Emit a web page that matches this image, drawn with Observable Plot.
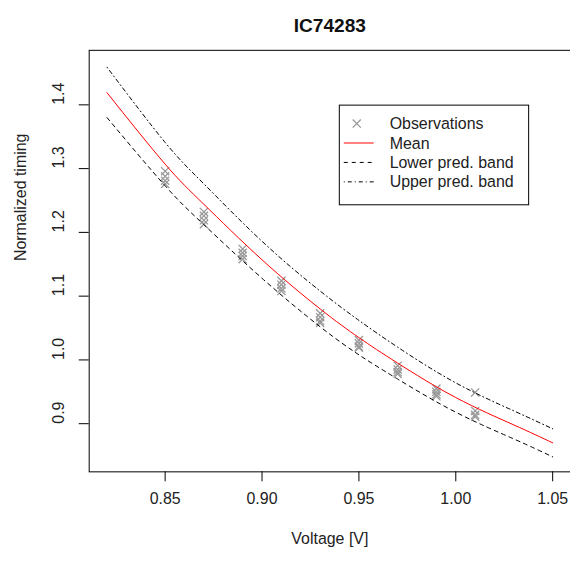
<!DOCTYPE html>
<html>
<head>
<meta charset="utf-8">
<script src="https://cdn.jsdelivr.net/npm/d3@7"></script>
<script src="https://cdn.jsdelivr.net/npm/@observablehq/plot@0.6"></script>
<style>
  html, body { margin: 0; padding: 0; overflow: hidden; background: white; }
  #chart svg { display: block; }
</style>
</head>
<body>
<div id="chart"></div>
<script>
const chartTitle = "IC74283";
const xLabel = "Voltage [V]";
const yLabel = "Normalized timing";
const xTicks = [0.85, 0.90, 0.95, 1.00, 1.05];
const yTicks = [0.9, 1.0, 1.1, 1.2, 1.3, 1.4];

// Curve grid (voltage) and curve values
const gridVoltage = [0.82, 0.85, 0.87, 0.90, 0.93, 0.95, 0.97, 1.00, 1.03, 1.05];
const meanValues  = [1.419, 1.307, 1.244, 1.157, 1.080, 1.035, 0.995, 0.941, 0.898, 0.870];
const lowerValues = [1.380, 1.273, 1.212, 1.128, 1.052, 1.008, 0.970, 0.918, 0.876, 0.848];
const upperValues = [1.459, 1.341, 1.276, 1.186, 1.108, 1.062, 1.020, 0.964, 0.920, 0.892];

// Observations
const obsVoltage = [
  0.85, 0.85, 0.85, 0.85,
  0.87, 0.87, 0.87, 0.87,
  0.89, 0.89, 0.89, 0.89,
  0.91, 0.91, 0.91, 0.91,
  0.93, 0.93, 0.93, 0.93,
  0.95, 0.95, 0.95, 0.95,
  0.97, 0.97, 0.97, 0.97,
  0.99, 0.99, 0.99, 0.99,
  1.01, 1.01, 1.01, 1.01
];
const obsTiming = [
  1.296, 1.288, 1.281, 1.276,
  1.232, 1.226, 1.219, 1.213,
  1.174, 1.168, 1.163, 1.158,
  1.124, 1.118, 1.112, 1.108,
  1.073, 1.067, 1.061, 1.058,
  1.031, 1.026, 1.021, 1.019,
  0.991, 0.985, 0.981, 0.978,
  0.955, 0.950, 0.946, 0.943,
  0.949, 0.920, 0.914, 0.911
];

const legendLabels = ["Observations", "Mean", "Lower pred. band", "Upper pred. band"];

const curves = gridVoltage.map((v, i) => ({v, mean: meanValues[i], lower: lowerValues[i], upper: upperValues[i]}));
const obs = obsVoltage.map((v, i) => ({v, t: obsTiming[i]}));

const FONT = "'Liberation Sans', Arial, Helvetica, sans-serif";
const fmt2 = d3.format(".2f");
const fmt1 = d3.format(".1f");

const plot = Plot.plot({
  width: 572,
  height: 562,
  marginLeft: 89,
  marginTop: 50,
  marginRight: 0,
  marginBottom: 89,
  style: {fontFamily: FONT, fontSize: "16px", background: "white", color: "black"},
  x: {domain: [0.8108, 1.0592]},
  y: {domain: [0.8245, 1.4855]},
  marks: [
    Plot.axisX({ticks: xTicks, tickSize: 10, tickFormat: () => "", label: null, stroke: "black"}),
    Plot.axisY({ticks: yTicks, tickSize: 10, tickFormat: () => "", label: null, stroke: "black"}),
    Plot.text(xTicks, {x: d => d, frameAnchor: "bottom", dy: 32, text: d => fmt2(d), fontSize: 16, fill: "#222"}),
    Plot.text(yTicks, {y: d => d, frameAnchor: "left", dx: -30, rotate: -90, text: d => fmt1(d), fontSize: 16, fill: "#222"}),
    Plot.text([xLabel], {frameAnchor: "bottom", dy: 72, text: d => d, fontSize: 16, fill: "#222"}),
    Plot.text([yLabel], {frameAnchor: "left", dx: -69, rotate: -90, text: d => d, fontSize: 16, fill: "#222"}),
    Plot.text([chartTitle], {frameAnchor: "top", dy: -32, text: d => d, fontSize: 19.2, fontWeight: "bold", fill: "#111"}),
    Plot.dot(obs, {x: "v", y: "t", symbol: "times", r: 3.8, stroke: "#999", strokeWidth: 1.3}),
    Plot.line(curves, {x: "v", y: "mean", stroke: "red", strokeWidth: 1, curve: "natural"}),
    Plot.line(curves, {x: "v", y: "lower", stroke: "black", strokeWidth: 1, strokeDasharray: "4,4", curve: "natural"}),
    Plot.line(curves, {x: "v", y: "upper", stroke: "black", strokeWidth: 1, strokeDasharray: "1,3,4,3", curve: "natural"}),
    Plot.frame({stroke: "black", strokeWidth: 1})
  ]
});

// Legend (drawn inside the SVG)
const svg = d3.select(plot);
const lg = svg.append("g").attr("font-family", FONT).attr("font-size", 16).attr("text-anchor", "start");
lg.append("rect").attr("x", 340.5).attr("y", 105.5).attr("width", 190).attr("height", 100)
  .attr("fill", "white").attr("stroke", "black");
const rowY = [124, 143.5, 163, 182.5];
const symX = 358;
lg.append("path").attr("d", d3.symbol(d3.symbolTimes, 45)()).attr("transform", `translate(${symX},${rowY[0]})`)
  .attr("stroke", "#999").attr("stroke-width", 1.3).attr("fill", "none");
lg.append("line").attr("x1", 345).attr("x2", 375).attr("y1", rowY[1]).attr("y2", rowY[1]).attr("stroke", "red");
lg.append("line").attr("x1", 345).attr("x2", 375).attr("y1", rowY[2]).attr("y2", rowY[2]).attr("stroke", "black").attr("stroke-dasharray", "4,4");
lg.append("line").attr("x1", 345).attr("x2", 375).attr("y1", rowY[3]).attr("y2", rowY[3]).attr("stroke", "black").attr("stroke-dasharray", "1,3,4,3");
legendLabels.forEach((t, i) => {
  lg.append("text").attr("x", 391).attr("y", rowY[i]).attr("dy", "0.35em").attr("fill", "#222")
    .attr("text-anchor", "start").text(t);
});

document.getElementById("chart").appendChild(plot);
</script>
</body>
</html>
